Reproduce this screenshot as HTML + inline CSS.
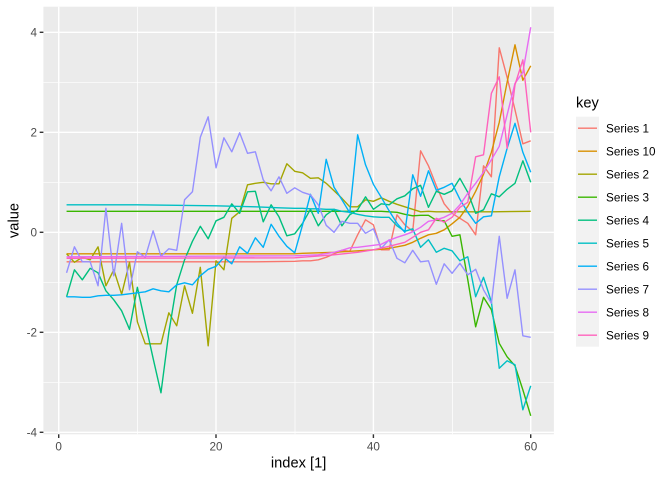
<!DOCTYPE html>
<html><head><meta charset="utf-8"><style>
html,body{margin:0;padding:0;background:#fff;}
svg{display:block;}
text{font-family:"Liberation Sans",Arial,sans-serif;}
</style></head><body>
<svg width="672" height="480" viewBox="0 0 672 480" xmlns="http://www.w3.org/2000/svg">
<rect x="0" y="0" width="672" height="480" fill="#fff"/>
<rect x="43.4" y="6.7" width="510.5" height="427.6" fill="#EBEBEB"/>
<g stroke="#fff" stroke-width="0.71" fill="none">
<line x1="43.4" x2="553.9" y1="82.3" y2="82.3"/>
<line x1="43.4" x2="553.9" y1="182.3" y2="182.3"/>
<line x1="43.4" x2="553.9" y1="282.3" y2="282.3"/>
<line x1="43.4" x2="553.9" y1="382.3" y2="382.3"/>
<line y1="6.7" y2="434.3" x1="137.4" x2="137.4"/>
<line y1="6.7" y2="434.3" x1="295.0" x2="295.0"/>
<line y1="6.7" y2="434.3" x1="452.4" x2="452.4"/>
</g>
<g stroke="#fff" stroke-width="1.42" fill="none">
<line x1="43.4" x2="553.9" y1="32.3" y2="32.3"/>
<line x1="43.4" x2="553.9" y1="132.3" y2="132.3"/>
<line x1="43.4" x2="553.9" y1="232.3" y2="232.3"/>
<line x1="43.4" x2="553.9" y1="332.3" y2="332.3"/>
<line x1="43.4" x2="553.9" y1="432.3" y2="432.3"/>
<line y1="6.7" y2="434.3" x1="58.7" x2="58.7"/>
<line y1="6.7" y2="434.3" x1="216.0" x2="216.0"/>
<line y1="6.7" y2="434.3" x1="373.4" x2="373.4"/>
<line y1="6.7" y2="434.3" x1="530.7" x2="530.7"/>
</g>
<g transform="translate(58.7,232.3) scale(7.867,-50)" fill="none" stroke-width="1.4" stroke-linejoin="round">
<polyline vector-effect="non-scaling-stroke" stroke="#F8766D" points="1,-0.59 25,-0.59 30,-0.58 31,-0.57 32,-0.57 33,-0.55 34,-0.5 35,-0.43 36,-0.36 37,-0.38 38,-0.05 39,0.25 40,0.15 41,-0.35 42,-0.35 43,0.35 44,0.15 45,0.02 46,1.63 47,1.33 48,0.93 49,0.57 50,0.38 51,0.28 52,0.18 53,-0.05 54,1.33 55,1.11 56,3.69 57,3.1 58,2.45 59,1.77 60,1.83"/>
<polyline vector-effect="non-scaling-stroke" stroke="#D89000" points="1,-0.43 30,-0.43 31,-0.42 33,-0.41 35,-0.40 37,-0.38 38,-0.37 39,-0.36 40,-0.35 41,-0.34 42,-0.32 43,-0.29 44,-0.26 45,-0.2 46,-0.12 47,-0.05 48,-0.02 49,0.05 50,0.17 51,0.3 52,0.52 53,0.82 54,1.16 55,1.6 56,2.2 57,3.0 58,3.75 59,3.04 60,3.33"/>
<polyline vector-effect="non-scaling-stroke" stroke="#A3A500" points="1,-0.43 2,-0.60 3,-0.50 4,-0.55 5,-0.29 6,-1.07 7,-0.75 8,-1.24 9,-0.60 10,-1.79 11,-2.23 12,-2.23 13,-2.23 14,-1.61 15,-1.87 16,-1.07 17,-1.62 18,-0.70 19,-2.27 20,-0.57 21,-0.75 22,0.28 23,0.41 24,0.95 25,0.98 26,1.0 27,0.97 28,0.97 29,1.37 30,1.22 31,1.19 32,1.08 33,1.09 34,0.98 35,0.83 36,0.68 37,0.51 38,0.51 39,0.65 40,0.62 41,0.69 42,0.62 43,0.56 44,0.51 45,0.46 46,0.41 47,0.42 48,0.41 49,0.41 50,0.41 55,0.41 60,0.42"/>
<polyline vector-effect="non-scaling-stroke" stroke="#39B600" points="1,0.42 41,0.42 42,0.41 43,0.40 44,0.36 45,0.33 46,0.34 47,0.34 48,0.24 49,0.23 50,-0.08 51,-0.05 52,-0.95 53,-1.89 54,-1.30 55,-1.55 56,-2.22 57,-2.49 58,-2.67 59,-3.15 60,-3.67"/>
<polyline vector-effect="non-scaling-stroke" stroke="#00BF7D" points="1,-1.29 2,-0.75 3,-0.95 4,-0.72 5,-0.81 6,-1.17 7,-1.35 8,-1.57 9,-1.94 10,-1.10 11,-1.81 12,-2.52 13,-3.21 14,-2.0 15,-1.05 16,-0.55 17,-0.18 18,0.12 19,-0.13 20,0.23 21,0.30 22,0.57 23,0.38 24,0.81 25,0.82 26,0.21 27,0.55 28,0.31 29,-0.07 30,-0.03 31,0.18 32,0.46 33,0.13 34,0.35 35,0.46 36,0.13 37,0.35 38,0.45 39,0.71 40,0.46 41,0.57 42,0.55 43,0.67 44,0.73 45,0.87 46,0.94 47,0.5 48,0.82 49,0.76 50,0.83 51,1.08 52,0.8 53,0.38 54,0.45 55,0.77 56,0.71 57,0.86 58,0.98 59,1.43 60,1.0"/>
<polyline vector-effect="non-scaling-stroke" stroke="#00BFC4" points="1,0.55 10,0.55 20,0.53 25,0.51 28,0.49 30,0.48 31,0.48 32,0.47 33,0.47 34,0.46 35,0.46 36,0.42 37,0.40 38,0.36 39,0.33 40,0.31 41,0.30 42,0.30 43,0.13 44,0.02 45,0.07 46,-0.3 47,-0.15 48,-0.4 49,-0.32 50,-0.37 51,-0.57 52,-0.49 53,-1.29 54,-0.9 55,-1.39 56,-2.72 57,-2.57 58,-2.65 59,-3.55 60,-3.07"/>
<polyline vector-effect="non-scaling-stroke" stroke="#00B0F6" points="1,-1.29 2,-1.29 3,-1.30 4,-1.30 5,-1.27 6,-1.26 7,-1.26 8,-1.25 9,-1.23 10,-1.21 11,-1.19 12,-1.13 13,-1.17 14,-1.19 15,-1.05 16,-1.01 17,-1.05 18,-0.87 19,-0.74 20,-0.68 21,-0.5 22,-0.63 23,-0.29 24,-0.42 25,-0.11 26,-0.3 27,0.16 28,-0.08 29,-0.28 30,-0.41 31,0.15 32,0.76 33,0.38 34,1.46 35,0.9 36,0.65 37,0.39 38,1.95 39,1.35 40,0.96 41,0.7 42,0.43 43,0.18 44,0.0 45,1.15 46,0.72 47,1.23 48,0.84 49,0.9 50,0.98 51,0.66 52,0.4 53,0.18 54,0.31 55,0.33 56,1.11 57,1.68 58,2.18 59,1.6 60,1.2"/>
<polyline vector-effect="non-scaling-stroke" stroke="#9590FF" points="1,-0.81 2,-0.29 3,-0.59 4,-0.59 5,-1.07 6,0.48 7,-0.87 8,0.18 9,-1.15 10,-0.39 11,-0.5 12,0.03 13,-0.48 14,-0.33 15,-0.36 16,0.65 17,0.81 18,1.9 19,2.31 20,1.29 21,1.89 22,1.61 23,1.99 24,1.58 25,1.61 26,1.05 27,0.83 28,1.11 29,0.78 30,0.89 31,0.8 32,0.75 33,0.55 34,0.14 35,0.0 36,0.22 37,0.18 38,0.18 39,-0.02 40,0.07 41,-0.32 42,-0.15 43,-0.52 44,-0.61 45,-0.36 46,-0.59 47,-0.57 48,-1.04 49,-0.63 50,-0.82 51,-0.62 52,-0.85 53,-0.74 54,-1.15 55,-1.42 56,-0.08 57,-1.32 58,-0.75 59,-2.07 60,-2.1"/>
<polyline vector-effect="non-scaling-stroke" stroke="#E76BF3" points="1,-0.49 30,-0.47 33,-0.45 35,-0.4 36,-0.36 37,-0.31 38,-0.30 39,-0.28 40,-0.26 41,-0.24 42,-0.16 43,-0.1 44,-0.05 45,0.01 46,0.1 47,0.22 48,0.25 49,0.3 50,0.38 51,0.55 52,0.78 53,0.98 54,1.2 55,1.45 56,1.72 57,2.35 58,2.98 59,3.2 60,4.1"/>
<polyline vector-effect="non-scaling-stroke" stroke="#FF62BC" points="1,-0.52 30,-0.51 35,-0.45 38,-0.40 40,-0.35 42,-0.28 44,-0.2 45,-0.1 46,0.0 47,0.05 48,0.28 49,0.2 50,0.3 51,0.5 52,0.6 53,1.51 54,1.55 55,2.78 56,3.11 57,1.68 58,2.95 59,3.45 60,2.0"/>
</g>
<g stroke="#333333" stroke-width="1.42">
<line x1="39.7" x2="43.4" y1="32.3" y2="32.3"/>
<line x1="39.7" x2="43.4" y1="132.3" y2="132.3"/>
<line x1="39.7" x2="43.4" y1="232.3" y2="232.3"/>
<line x1="39.7" x2="43.4" y1="332.3" y2="332.3"/>
<line x1="39.7" x2="43.4" y1="432.3" y2="432.3"/>
<line y1="434.3" y2="438.0" x1="58.7" x2="58.7"/>
<line y1="434.3" y2="438.0" x1="216.0" x2="216.0"/>
<line y1="434.3" y2="438.0" x1="373.4" x2="373.4"/>
<line y1="434.3" y2="438.0" x1="530.7" x2="530.7"/>
</g>
<g fill="#4D4D4D" font-size="11.73" text-anchor="end">
<text x="37" y="36.5">4</text>
<text x="37" y="136.5">2</text>
<text x="37" y="236.5">0</text>
<text x="37" y="336.5">-2</text>
<text x="37" y="436.5">-4</text>
</g>
<g fill="#4D4D4D" font-size="11.73" text-anchor="middle">
<text x="58.7" y="450.6">0</text>
<text x="216.0" y="450.6">20</text>
<text x="373.4" y="450.6">40</text>
<text x="530.7" y="450.6">60</text>
</g>
<text x="298.6" y="467.5" font-size="14.67" text-anchor="middle" fill="#000">index [1]</text>
<text transform="translate(18.6,220.5) rotate(-90)" font-size="14.67" text-anchor="middle" fill="#000">value</text>
<text x="576" y="107.5" font-size="14.67" fill="#000">key</text>
<rect x="576" y="116.7" width="23" height="230" fill="#F2F2F2"/>
<g stroke-width="1.4">
<line x1="578" x2="597" y1="128.2" y2="128.2" stroke="#F8766D"/>
<line x1="578" x2="597" y1="151.2" y2="151.2" stroke="#D89000"/>
<line x1="578" x2="597" y1="174.2" y2="174.2" stroke="#A3A500"/>
<line x1="578" x2="597" y1="197.2" y2="197.2" stroke="#39B600"/>
<line x1="578" x2="597" y1="220.2" y2="220.2" stroke="#00BF7D"/>
<line x1="578" x2="597" y1="243.2" y2="243.2" stroke="#00BFC4"/>
<line x1="578" x2="597" y1="266.2" y2="266.2" stroke="#00B0F6"/>
<line x1="578" x2="597" y1="289.2" y2="289.2" stroke="#9590FF"/>
<line x1="578" x2="597" y1="312.2" y2="312.2" stroke="#E76BF3"/>
<line x1="578" x2="597" y1="335.2" y2="335.2" stroke="#FF62BC"/>
</g>
<g fill="#000" font-size="11.73">
<text x="606" y="132.4">Series 1</text>
<text x="606" y="155.4">Series 10</text>
<text x="606" y="178.4">Series 2</text>
<text x="606" y="201.4">Series 3</text>
<text x="606" y="224.4">Series 4</text>
<text x="606" y="247.4">Series 5</text>
<text x="606" y="270.4">Series 6</text>
<text x="606" y="293.4">Series 7</text>
<text x="606" y="316.4">Series 8</text>
<text x="606" y="339.4">Series 9</text>
</g>
</svg>
</body></html>
